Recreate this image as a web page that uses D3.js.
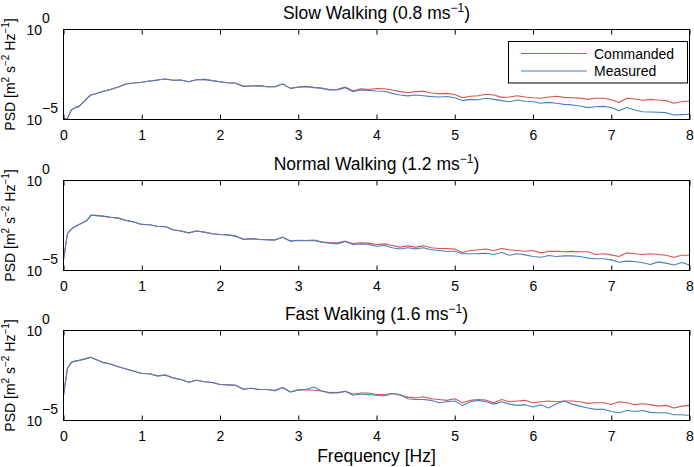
<!DOCTYPE html>
<html>
<head>
<meta charset="utf-8">
<script src="https://cdn.jsdelivr.net/npm/d3@7"></script>
<style>
  body { margin: 0; background: #fff; }
  svg { display: block; font-family: "Liberation Sans", Arial, sans-serif; }
</style>
</head>
<body>
<svg id="chart" width="694" height="467"></svg>
<script>
// ---------------- DATA ----------------
const frequencies = [0,0.05,0.1,0.15,0.2,0.3,0.35,0.4,
  0.5,0.6,0.7,0.8,0.9,
  1.0,1.1,1.2,1.3,1.4,1.5,1.6,1.7,1.8,1.9,
  2.0,2.1,2.2,2.3,2.4,2.5,2.6,2.7,2.8,2.9,
  3.0,3.1,3.2,3.3,3.4,3.5,3.6,3.7,3.8,3.9,
  4.0,4.1,4.2,4.3,4.4,4.5,4.6,4.7,4.8,4.9,
  5.0,5.1,5.2,5.3,5.4,5.5,5.6,5.7,5.8,5.9,
  6.0,6.1,6.2,6.3,6.4,6.5,6.6,6.7,6.8,6.9,
  7.0,7.1,7.2,7.3,7.4,7.5,7.6,7.7,7.8,7.9,
  8.0];

// log10(PSD) values
const slowCommandedLog10 = [-5.0,-4.93,-4.47,-4.34,-4.27,-3.82,-3.64,-3.58,
  -3.44,-3.33,-3.19,-3.03,-2.97,
  -2.93,-2.86,-2.81,-2.75,-2.82,-2.81,-2.9,-2.79,-2.77,-2.84,
  -2.9,-2.96,-2.99,-3.16,-3.14,-3.12,-3.18,-3.18,-3.03,-3.27,
  -3.19,-3.16,-3.21,-3.25,-3.33,-3.32,-3.2,-3.4,-3.3,-3.33,
  -3.28,-3.29,-3.36,-3.45,-3.51,-3.45,-3.43,-3.53,-3.56,-3.55,
  -3.61,-3.79,-3.71,-3.68,-3.6,-3.64,-3.77,-3.75,-3.68,-3.75,
  -3.79,-3.82,-3.75,-3.71,-3.77,-3.79,-3.81,-3.88,-3.82,-3.82,
  -3.9,-4.05,-3.82,-3.86,-3.93,-3.88,-3.92,-3.95,-4.1,-4.01,
  -3.97];
const slowMeasuredLog10 = [-5.0,-4.93,-4.47,-4.34,-4.27,-3.82,-3.64,-3.58,
  -3.44,-3.33,-3.19,-3.03,-2.97,
  -2.93,-2.86,-2.81,-2.75,-2.82,-2.81,-2.9,-2.79,-2.77,-2.84,
  -2.9,-2.96,-2.99,-3.16,-3.14,-3.12,-3.18,-3.18,-3.03,-3.27,
  -3.21,-3.18,-3.23,-3.27,-3.36,-3.36,-3.23,-3.46,-3.36,-3.38,
  -3.42,-3.43,-3.55,-3.64,-3.69,-3.64,-3.68,-3.73,-3.75,-3.72,
  -3.79,-3.95,-3.88,-3.9,-3.82,-3.88,-3.95,-4.01,-3.92,-3.99,
  -4.01,-4.1,-4.05,-4.1,-4.16,-4.19,-4.25,-4.34,-4.29,-4.27,
  -4.33,-4.51,-4.33,-4.47,-4.57,-4.58,-4.6,-4.62,-4.75,-4.73,
  -4.71];

const normalCommandedLog10 = [-4.4,-2.96,-2.69,-2.56,-2.44,-2.22,-1.94,-1.94,
  -1.98,-2.04,-2.09,-2.22,-2.3,
  -2.44,-2.46,-2.54,-2.56,-2.74,-2.81,-2.91,-2.81,-2.87,-2.96,
  -3.0,-3.02,-3.09,-3.27,-3.23,-3.26,-3.28,-3.3,-3.15,-3.36,
  -3.32,-3.33,-3.31,-3.41,-3.45,-3.46,-3.37,-3.5,-3.46,-3.48,
  -3.56,-3.52,-3.61,-3.7,-3.63,-3.7,-3.63,-3.74,-3.78,-3.78,
  -3.81,-4.0,-3.89,-3.85,-3.81,-3.89,-3.78,-3.85,-3.89,-3.93,
  -3.89,-4.02,-3.94,-3.93,-3.96,-3.94,-3.96,-3.96,-4.11,-4.07,
  -4.13,-4.22,-4.02,-4.07,-4.11,-4.07,-4.11,-4.15,-4.26,-4.15,
  -4.15];
const normalMeasuredLog10 = [-4.4,-2.96,-2.69,-2.56,-2.44,-2.22,-1.94,-1.94,
  -1.98,-2.04,-2.09,-2.22,-2.3,
  -2.44,-2.46,-2.54,-2.56,-2.74,-2.81,-2.91,-2.81,-2.87,-2.96,
  -3.0,-3.02,-3.09,-3.28,-3.24,-3.28,-3.3,-3.31,-3.15,-3.37,
  -3.33,-3.35,-3.33,-3.43,-3.48,-3.52,-3.39,-3.55,-3.52,-3.55,
  -3.65,-3.61,-3.74,-3.81,-3.74,-3.8,-3.74,-3.85,-3.89,-3.93,
  -3.93,-4.07,-4.07,-4.06,-4.04,-4.11,-4.0,-4.15,-4.07,-4.13,
  -4.22,-4.26,-4.17,-4.22,-4.19,-4.19,-4.22,-4.31,-4.35,-4.35,
  -4.41,-4.54,-4.48,-4.5,-4.57,-4.67,-4.52,-4.59,-4.69,-4.56,
  -4.69];

const fastCommandedLog10 = [-3.6,-2.11,-1.77,-1.7,-1.66,-1.55,-1.49,-1.58,
  -1.77,-1.86,-2.01,-2.14,-2.26,
  -2.39,-2.4,-2.52,-2.48,-2.63,-2.72,-2.87,-2.76,-2.85,-2.89,
  -3.0,-3.02,-3.04,-3.26,-3.21,-3.28,-3.28,-3.34,-3.17,-3.42,
  -3.3,-3.29,-3.32,-3.36,-3.45,-3.44,-3.38,-3.53,-3.47,-3.47,
  -3.56,-3.56,-3.5,-3.6,-3.7,-3.75,-3.68,-3.79,-3.83,-3.88,
  -3.79,-4.01,-3.88,-3.83,-3.87,-4.01,-3.83,-3.96,-3.92,-3.88,
  -4.01,-3.96,-3.92,-3.96,-3.92,-3.92,-3.96,-4.05,-4.01,-4.01,
  -4.11,-3.96,-4.01,-4.12,-4.07,-4.12,-4.2,-4.16,-4.31,-4.2,
  -4.16];
const fastMeasuredLog10 = [-3.6,-2.11,-1.77,-1.7,-1.66,-1.55,-1.49,-1.58,
  -1.77,-1.86,-2.01,-2.14,-2.26,
  -2.39,-2.4,-2.52,-2.48,-2.63,-2.72,-2.87,-2.76,-2.85,-2.89,
  -3.0,-3.02,-3.04,-3.26,-3.21,-3.28,-3.28,-3.34,-3.17,-3.42,
  -3.3,-3.28,-3.14,-3.36,-3.47,-3.47,-3.38,-3.6,-3.53,-3.56,
  -3.6,-3.64,-3.5,-3.56,-3.79,-3.83,-3.83,-3.88,-4.01,-3.96,
  -3.92,-4.16,-3.96,-3.88,-3.96,-4.09,-3.96,-4.09,-4.16,-4.12,
  -4.25,-4.12,-4.31,-4.07,-3.92,-4.09,-4.2,-4.31,-4.38,-4.38,
  -4.5,-4.57,-4.44,-4.5,-4.44,-4.55,-4.57,-4.57,-4.68,-4.68,
  -4.72];

const panelTitles = ["Slow Walking (0.8 ms", "Normal Walking (1.2 ms", "Fast Walking (1.6 ms"];
const seriesNames = ["Commanded", "Measured"];
const xTickValues = [0,1,2,3,4,5,6,7,8];
const yTickExponents = [0, -5];
const xAxisLabel = "Frequency [Hz]";

// ---------------- LAYOUT ----------------
const svg = d3.select("#chart");
const left = 63.5, right = 689.5, plotH = 90;
const tops = [29.5, 180.5, 330.5];
const colors = ["#d9534f", "#4a7fc1"];
const panels = [
  [slowCommandedLog10, slowMeasuredLog10],
  [normalCommandedLog10, normalMeasuredLog10],
  [fastCommandedLog10, fastMeasuredLog10]
];

const x = d3.scaleLinear().domain([0, 8]).range([left, right]);

panels.forEach((series, p) => {
  const top = tops[p], bottom = top + plotH;
  const y = d3.scaleLog().domain([1e-5, 1]).range([bottom, top]);
  const g = svg.append("g");

  const clipId = "clip" + p;
  svg.append("clipPath").attr("id", clipId).append("rect")
    .attr("x", left).attr("y", top).attr("width", right - left).attr("height", plotH);

  const line = d3.line()
    .x((d, i) => x(frequencies[i]))
    .y(d => y(Math.pow(10, d)));

  series.forEach((vals, s) => {
    g.append("path")
      .attr("clip-path", `url(#${clipId})`)
      .attr("d", line(vals))
      .attr("fill", "none")
      .attr("stroke", colors[s])
      .attr("stroke-width", 1.1)
      .attr("stroke-linejoin", "round");
  });

  // box
  g.append("rect").attr("x", left).attr("y", top).attr("width", right - left).attr("height", plotH)
    .attr("fill", "none").attr("stroke", "#000").attr("stroke-width", 1);

  // bottom axis ticks (inward) + labels
  const bAxis = d3.axisBottom(x).tickValues(xTickValues).tickSizeInner(-5).tickSizeOuter(0)
    .tickPadding(10).tickFormat(d3.format("d"));
  const ba = g.append("g").attr("transform", `translate(0,${bottom})`).call(bAxis);
  ba.select(".domain").remove();
  ba.selectAll("text").attr("font-size", 14).attr("fill", "#000")
    .attr("font-family", "Liberation Sans, Arial, sans-serif").attr("dy", "0.76em");
  ba.selectAll("line").attr("stroke", "#000");

  // top ticks
  const tAxis = d3.axisTop(x).tickValues(xTickValues).tickSizeInner(-5).tickSizeOuter(0).tickFormat("");
  const ta = g.append("g").attr("transform", `translate(0,${top})`).call(tAxis);
  ta.select(".domain").remove();
  ta.selectAll("line").attr("stroke", "#000");

  // y tick labels 10^e
  yTickExponents.forEach(e => {
    const yy = y(Math.pow(10, e));
    g.append("text").attr("x", 42).attr("y", yy + 5).attr("text-anchor", "end")
      .attr("font-size", 14).text("10");
    g.append("text").attr("x", 42).attr("y", yy - 7).attr("text-anchor", "start")
      .attr("font-size", 14).text(e < 0 ? "\u2212" + Math.abs(e) : String(e));
  });

  // y label
  const ylab = g.append("text")
    .attr("transform", `translate(15,${(top + bottom) / 2}) rotate(-90)`)
    .attr("text-anchor", "middle").attr("font-size", 14);
  ylab.append("tspan").text("PSD [m");
  ylab.append("tspan").attr("dy", -6).attr("font-size", 10).text("2");
  ylab.append("tspan").attr("dy", 6).text(" s");
  ylab.append("tspan").attr("dy", -6).attr("font-size", 10).text("\u22122");
  ylab.append("tspan").attr("dy", 6).text(" Hz");
  ylab.append("tspan").attr("dy", -6).attr("font-size", 10).text("\u22121");
  ylab.append("tspan").attr("dy", 6).text("]");

  // title
  const t = g.append("text").attr("x", (left + right) / 2).attr("y", top - 10.5)
    .attr("text-anchor", "middle").attr("font-size", 17.5);
  t.append("tspan").text(panelTitles[p]);
  t.append("tspan").attr("dy", -7).attr("font-size", 12).text("\u22121");
  t.append("tspan").attr("dy", 7).text(")");

  // legend in first panel
  if (p === 0) {
    const lx = 508, ly = 41, lw = 179, lh = 41.5;
    const lg = g.append("g");
    lg.append("rect").attr("x", lx + 0.5).attr("y", ly + 0.5).attr("width", lw).attr("height", lh)
      .attr("fill", "#fff").attr("stroke", "#000");
    seriesNames.forEach((name, i) => {
      const yy = ly + 12.5 + i * 17.5;
      lg.append("line").attr("x1", 521).attr("x2", 587).attr("y1", yy).attr("y2", yy)
        .attr("stroke", colors[i]).attr("stroke-width", 1.1);
      lg.append("text").attr("x", 594).attr("y", yy + 5).attr("font-size", 14).text(name);
    });
  }
});

svg.append("text").attr("x", (left + right) / 2).attr("y", 461.5).attr("text-anchor", "middle")
  .attr("font-size", 17.5).text(xAxisLabel);
</script>
</body>
</html>
